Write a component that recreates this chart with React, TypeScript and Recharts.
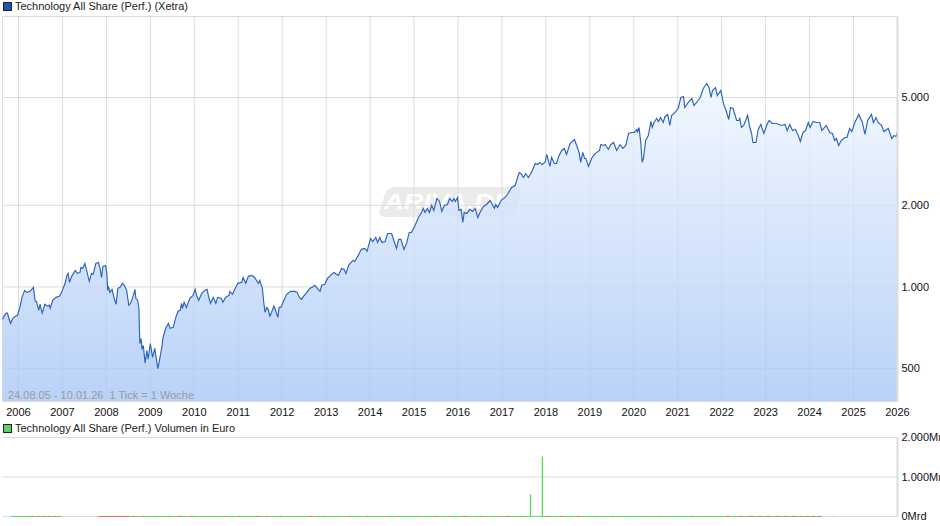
import { Area, AreaChart, CartesianGrid, ComposedChart, Line, XAxis, YAxis } from 'recharts';

const dates = [
  2005.64, 2005.67, 2005.72, 2005.75, 2005.78, 2005.82, 2005.87, 2005.93, 2005.98,
  2006.03, 2006.08, 2006.14, 2006.19, 2006.26, 2006.32, 2006.34, 2006.38, 2006.41, 2006.46, 2006.49, 2006.54, 2006.6, 2006.66, 2006.7, 2006.72, 2006.78, 2006.85, 2006.93, 2006.98,
  2007.06, 2007.1, 2007.13, 2007.16, 2007.21, 2007.29, 2007.34, 2007.4, 2007.42, 2007.46, 2007.51, 2007.55, 2007.61, 2007.66, 2007.7, 2007.76, 2007.82, 2007.85, 2007.89, 2007.92, 2007.98,
  2008.01, 2008.03, 2008.05, 2008.08, 2008.13, 2008.17, 2008.22, 2008.26, 2008.31, 2008.37, 2008.42, 2008.46, 2008.51, 2008.55, 2008.6, 2008.65, 2008.67, 2008.71, 2008.74, 2008.76, 2008.79, 2008.81, 2008.84, 2008.88, 2008.92, 2008.95,
  2009.0, 2009.05, 2009.1, 2009.17, 2009.22, 2009.26, 2009.29, 2009.35, 2009.41, 2009.45, 2009.52, 2009.58, 2009.63, 2009.68, 2009.71, 2009.73, 2009.77, 2009.82, 2009.9, 2009.97,
  2010.02, 2010.05, 2010.1, 2010.17, 2010.24, 2010.29, 2010.33, 2010.37, 2010.43, 2010.49, 2010.53, 2010.61, 2010.65, 2010.71, 2010.79, 2010.81, 2010.87, 2010.93, 2010.99,
  2011.08, 2011.11, 2011.17, 2011.23, 2011.31, 2011.37, 2011.46, 2011.49, 2011.55, 2011.58, 2011.61, 2011.65, 2011.68, 2011.72, 2011.76, 2011.81, 2011.85, 2011.9, 2011.93, 2011.97,
  2012.03, 2012.1, 2012.19, 2012.24, 2012.29, 2012.34, 2012.39, 2012.44, 2012.49, 2012.56, 2012.63, 2012.68, 2012.74, 2012.8, 2012.86, 2012.9, 2012.97,
  2013.03, 2013.1, 2013.18, 2013.24, 2013.28, 2013.35, 2013.41, 2013.45, 2013.52, 2013.61, 2013.65, 2013.73, 2013.8, 2013.88, 2013.93,
  2014.01, 2014.06, 2014.13, 2014.17, 2014.22, 2014.27, 2014.34, 2014.4, 2014.49, 2014.54, 2014.6, 2014.65, 2014.7, 2014.77, 2014.83, 2014.89, 2014.94,
  2015.02, 2015.1, 2015.17, 2015.21, 2015.25, 2015.3, 2015.35, 2015.4, 2015.45, 2015.52, 2015.58, 2015.63, 2015.69, 2015.76, 2015.81, 2015.87, 2015.91, 2015.94, 2015.99,
  2016.02, 2016.07, 2016.11, 2016.14, 2016.2, 2016.27, 2016.33, 2016.39, 2016.45, 2016.5, 2016.58, 2016.65, 2016.73, 2016.78, 2016.83, 2016.86, 2016.9, 2016.98,
  2017.07, 2017.14, 2017.22, 2017.3, 2017.39, 2017.43, 2017.49, 2017.54, 2017.6, 2017.67, 2017.76, 2017.81, 2017.86, 2017.91, 2017.98,
  2018.02, 2018.09, 2018.13, 2018.19, 2018.24, 2018.3, 2018.36, 2018.42, 2018.47, 2018.55, 2018.65, 2018.7, 2018.76, 2018.79, 2018.84, 2018.88, 2018.91, 2018.97,
  2019.04, 2019.1, 2019.16, 2019.22, 2019.25, 2019.31, 2019.35, 2019.42, 2019.48, 2019.54, 2019.61, 2019.69, 2019.75, 2019.82, 2019.88, 2019.95,
  2020.01, 2020.07, 2020.08, 2020.12, 2020.16, 2020.19, 2020.22, 2020.27, 2020.33, 2020.39, 2020.42, 2020.46, 2020.52, 2020.56, 2020.61, 2020.67, 2020.71, 2020.77, 2020.82, 2020.86, 2020.94,
  2021.01, 2021.07, 2021.13, 2021.16, 2021.24, 2021.32, 2021.37, 2021.43, 2021.51, 2021.58, 2021.66, 2021.71, 2021.76, 2021.79, 2021.86, 2021.9, 2021.98,
  2022.04, 2022.1, 2022.16, 2022.2, 2022.26, 2022.34, 2022.39, 2022.41, 2022.45, 2022.5, 2022.59, 2022.64, 2022.68, 2022.71, 2022.78, 2022.83, 2022.89, 2022.96,
  2023.04, 2023.08, 2023.15, 2023.25, 2023.36, 2023.44, 2023.49, 2023.55, 2023.61, 2023.68, 2023.74, 2023.79, 2023.85, 2023.91, 2023.97,
  2024.01, 2024.08, 2024.16, 2024.23, 2024.28, 2024.38, 2024.46, 2024.52, 2024.57, 2024.61, 2024.66, 2024.72, 2024.8, 2024.85, 2024.91, 2024.96,
  2025.03, 2025.12, 2025.2, 2025.26, 2025.32, 2025.41, 2025.45, 2025.51, 2025.56, 2025.64, 2025.69, 2025.79, 2025.87, 2025.92, 2025.97, 2026.0,
];

const values = [
  760, 780, 800, 800, 766, 734, 766, 780, 786,
  840, 915, 971, 955, 963, 988, 996, 885, 885, 820, 863, 800, 863, 849, 856, 834, 893, 915, 924, 955,
  1031, 1103, 1122, 1040, 1094, 1150, 1122, 1131, 1180, 1170, 1220, 1150, 1049, 1122, 1112, 1220, 1230, 1180, 1084, 1190, 1200,
  1122, 971, 996, 955, 980, 915, 863, 988, 996, 1031, 1005, 971, 856, 870, 915, 980, 908, 893, 834, 618, 645, 588, 608, 523, 583, 541,
  618, 550, 593, 499, 550, 598, 651, 704, 734, 704, 709, 772, 813, 820, 870, 834, 878, 840, 908, 931,
  980, 931, 893, 947, 971, 980, 915, 870, 915, 870, 915, 908, 878, 915, 931, 963, 939, 988, 1031,
  1040, 1084, 1031, 1094, 1103, 1084, 1031, 1057, 988, 878, 806, 840, 827, 780, 806, 849, 820, 772, 840, 840,
  885, 939, 963, 963, 963, 955, 915, 900, 924, 955, 988, 996, 1014, 988, 963, 1014, 1022,
  1075, 1103, 1131, 1112, 1103, 1170, 1160, 1122, 1210, 1252, 1241, 1307, 1376, 1387, 1353,
  1509, 1471, 1522, 1459, 1522, 1459, 1471, 1575, 1575, 1484, 1387, 1497, 1497, 1376, 1447, 1588, 1588,
  1683, 1804, 1883, 1948, 1883, 1948, 1883, 1998, 1915, 2120, 2067, 1899, 1998, 2015, 2120, 2067, 2120, 2067, 2139,
  1915, 1932, 1729, 1883, 1867, 1932, 1899, 1948, 1804, 1883, 1981, 2015, 2084, 2015, 1948, 2015, 1964, 2084,
  2139, 2212, 2328, 2367, 2644, 2621, 2534, 2621, 2534, 2644, 2855, 2831, 2880, 2831, 2880,
  3083, 2784, 3004, 2855, 2855, 3057, 3189, 3243, 3083, 3383, 3500, 3327, 3109, 2880, 3136, 2979, 2979, 2784,
  2979, 3083, 3136, 3189, 3355, 3327, 3355, 3216, 3355, 3412, 3189, 3355, 3243, 3327, 3683, 3715,
  3715, 3811, 3715, 3875, 3383, 2880, 2979, 3470, 3621, 4078, 3875, 4044, 4184, 4078, 4219, 4044, 4256, 4329, 3942, 4293, 4403,
  4554, 5000, 5043, 4593, 4794, 4958, 4675, 4794, 5000, 5397, 5632, 5443, 5000, 5306, 5443, 5085, 5306,
  4754, 4478, 4149, 4593, 4554, 4113, 4113, 4184, 3875, 3942, 4293, 3875, 3683, 3412, 3412, 3811, 3976, 3683,
  4010, 4113, 4010, 4010, 3942, 3976, 3778, 3976, 3778, 3811, 3621, 3441, 3715, 3778, 4044,
  3875, 4078, 4044, 4044, 3778, 3942, 3715, 3683, 3470, 3530, 3327, 3470, 3560, 3560, 3843, 3746,
  4044, 4329, 4044, 3652, 4113, 4329, 4044, 4219, 4044, 3942, 3746, 3843, 3530, 3621, 3590, 3746,
];

const yearTicks = [2006, 2007, 2008, 2009, 2010, 2011, 2012, 2013, 2014, 2015, 2016, 2017, 2018, 2019, 2020, 2021, 2022, 2023, 2024, 2025, 2026];
const priceTicks = [500, 1000, 2000, 5000];
const volumeTicks = [0, 1000, 2000];

const spikeDates = [2017.65, 2017.92];
const spikeVolumes = [557, 1519];

// weeks with rising and falling turnover, as start/end of each run along the base line
const upRuns = [[2005.81, 2006.98], [2007.82, 2024.27], [2024.54, 2024.56]];
const downRuns = [
  [2006.28, 2006.33], [2006.42, 2006.48], [2006.55, 2006.62], [2006.68, 2006.72], [2006.8, 2006.86], [2006.9, 2006.95],
  [2007.82, 2008.52], [2008.6, 2008.66], [2008.8, 2008.86], [2009.12, 2009.16], [2009.4, 2009.46], [2009.62, 2009.72], [2009.9, 2009.98],
  [2010.42, 2010.46], [2010.7, 2010.74], [2011.0, 2011.06], [2011.4, 2011.48], [2011.62, 2011.68], [2011.95, 2012.0], [2012.3, 2012.34], [2012.6, 2012.7], [2012.95, 2013.0],
  [2013.5, 2013.56], [2013.9, 2013.96], [2014.3, 2014.34], [2014.6, 2014.66], [2015.05, 2015.1], [2015.45, 2015.52], [2015.78, 2015.84], [2016.1, 2016.2], [2016.5, 2016.56], [2016.9, 2016.95],
  [2017.1, 2017.18], [2017.42, 2017.48], [2018.02, 2018.1], [2018.32, 2018.4], [2018.7, 2018.78], [2019.1, 2019.14], [2019.5, 2019.56], [2020.18, 2020.22], [2020.6, 2020.64], [2021.3, 2021.34],
  [2021.7, 2021.74], [2022.1, 2022.2], [2022.4, 2022.48], [2022.6, 2022.72], [2022.82, 2022.9], [2023.0, 2023.1], [2023.22, 2023.32], [2023.42, 2023.5], [2023.6, 2023.72], [2023.78, 2023.84], [2023.92, 2024.0], [2024.05, 2024.14], [2024.18, 2024.27],
];

const priceData = dates.map((date, i) => ({ date, price: values[i] }));

const baseVolume = 1;
const inRuns = (runs: number[][], date: number) => runs.some(([from, to]) => date >= from && date <= to);
const baseDates = [
  ...upRuns.flatMap(([from, to]) => [from, to, to + 0.001]),
  ...downRuns.flatMap(([from, to]) => [from, to, to + 0.001]),
];
const baseRows = baseDates.map((date) => ({ date, spike: null as number | null }));
const spikeRows = spikeDates.flatMap((date, i) => [
  { date, spike: 0 },
  { date, spike: spikeVolumes[i] },
  { date: date + 0.001, spike: null },
]);
const volumeData = [...baseRows, ...spikeRows]
  .map((row, i) => ({ ...row, i }))
  .sort((a, b) => a.date - b.date || a.i - b.i)
  .map((row) => ({
    date: row.date,
    spike: row.spike,
    up: inRuns(upRuns, row.date) ? baseVolume : null,
    down: inRuns(downRuns, row.date) ? baseVolume : null,
  }));

const font = '"Liberation Sans", Arial, sans-serif';
const gridColor = '#dcdcdc';
const dateDomain = [2005.636, 2026];
const minPrice = 377.7;
const maxPrice = 9952;

const Title = ({ top, color, text }: { top: number; color: string; text: string }) => (
  <div style={{ position: 'absolute', left: 3, top, fontSize: 11, lineHeight: '13px', color: '#222', whiteSpace: 'nowrap' }}>
    <span style={{ display: 'inline-block', width: 7, height: 7, background: color, border: '1px solid #222', marginRight: 3, verticalAlign: -1 }} />
    {text}
  </div>
);

export default function App() {
  return (
    <div style={{ position: 'absolute', left: 0, top: 0, width: 940, height: 526, background: '#fff', overflow: 'hidden', fontFamily: font }}>
      <svg width={940} height={420} style={{ position: 'absolute', left: 0, top: 0 }}>
        <rect x={448} y={187} width={136} height={30} rx={7} transform="skewX(-18)" fill="#000" fillOpacity={0.08} />
        <text x={384} y={209} fontSize={22} fontWeight="bold" fontStyle="italic" fill="#fff" textLength={128} lengthAdjust="spacingAndGlyphs" fontFamily={font}>ARIVA.DE</text>
      </svg>
      <Title top={0} color="#1a56b8" text="Technology All Share (Perf.) (Xetra)" />
      <AreaChart width={940} height={420} data={priceData} margin={{ top: 16.5, right: 0, bottom: 0, left: 2.5 }} style={{ position: 'absolute', left: 0, top: 0 }}>
        <defs>
          <linearGradient id="priceFill" x1="0" y1="0" x2="0" y2="1">
            <stop offset="0%" stopColor="#eff6fe" stopOpacity={0.8} />
            <stop offset="100%" stopColor="#a8c7f6" stopOpacity={0.8} />
          </linearGradient>
        </defs>
        <CartesianGrid stroke={gridColor} strokeWidth={1} horizontalValues={[maxPrice, ...priceTicks]} verticalValues={[dateDomain[0], ...yearTicks]} />
        <XAxis dataKey="date" type="number" domain={dateDomain} ticks={yearTicks} interval={0} tickLine={false} height={18.5} tickMargin={1}
          stroke={gridColor} tick={{ fill: '#111', fontSize: 11, fontFamily: font }} />
        <YAxis orientation="right" scale="log" domain={[minPrice, maxPrice]} allowDataOverflow ticks={priceTicks} interval={0} width={42.5} tickLine={false} tickSize={4} tickMargin={0}
          axisLine={{ stroke: gridColor, strokeWidth: 2 }} tickFormatter={(v) => v.toLocaleString('de-DE')} tick={{ fill: '#111', fontSize: 11, fontFamily: font }} />
        <Area type="linear" dataKey="price" baseValue={minPrice} stroke="#2a62c0" strokeWidth={1.15} fill="url(#priceFill)" fillOpacity={1} dot={false} activeDot={false} isAnimationActive={false} />
      </AreaChart>
      <svg width={940} height={420} style={{ position: 'absolute', left: 0, top: 0, pointerEvents: 'none' }}>
        <text x={8} y={399} fontSize={11} fill="#9a9a9a" fontFamily={font} xmlSpace="preserve">24.08.05 - 10.01.26  1 Tick = 1 Woche</text>
      </svg>
      <Title top={422} color="#5fd35f" text="Technology All Share (Perf.) Volumen in Euro" />
      <ComposedChart width={940} height={99.5} data={volumeData} margin={{ top: 10.5, right: 0, bottom: 0, left: 2.5 }} style={{ position: 'absolute', left: 0, top: 427 }}>
        <CartesianGrid stroke={gridColor} strokeWidth={1} horizontalValues={volumeTicks} verticalValues={[dateDomain[0], ...yearTicks]} />
        <XAxis dataKey="date" type="number" domain={dateDomain} ticks={yearTicks} interval={0} tick={false} tickLine={false} height={10} axisLine={false} />
        <YAxis orientation="right" domain={[0, 2000]} ticks={volumeTicks} interval={0} width={42.5} tickLine={false} tickSize={4} tickMargin={0}
          axisLine={{ stroke: gridColor, strokeWidth: 2 }} tickFormatter={(v) => `${v.toLocaleString('de-DE')}Mrd`} tick={{ fill: '#111', fontSize: 11, fontFamily: font }} />
        <Line dataKey="spike" stroke="#5fdc5f" strokeWidth={1.4} dot={false} activeDot={false} isAnimationActive={false} />
        <Line dataKey="up" stroke="#5fdc5f" strokeWidth={1} dot={false} activeDot={false} isAnimationActive={false} />
        <Line dataKey="down" stroke="#ec6a6a" strokeWidth={1} dot={false} activeDot={false} isAnimationActive={false} />
      </ComposedChart>
    </div>
  );
}
